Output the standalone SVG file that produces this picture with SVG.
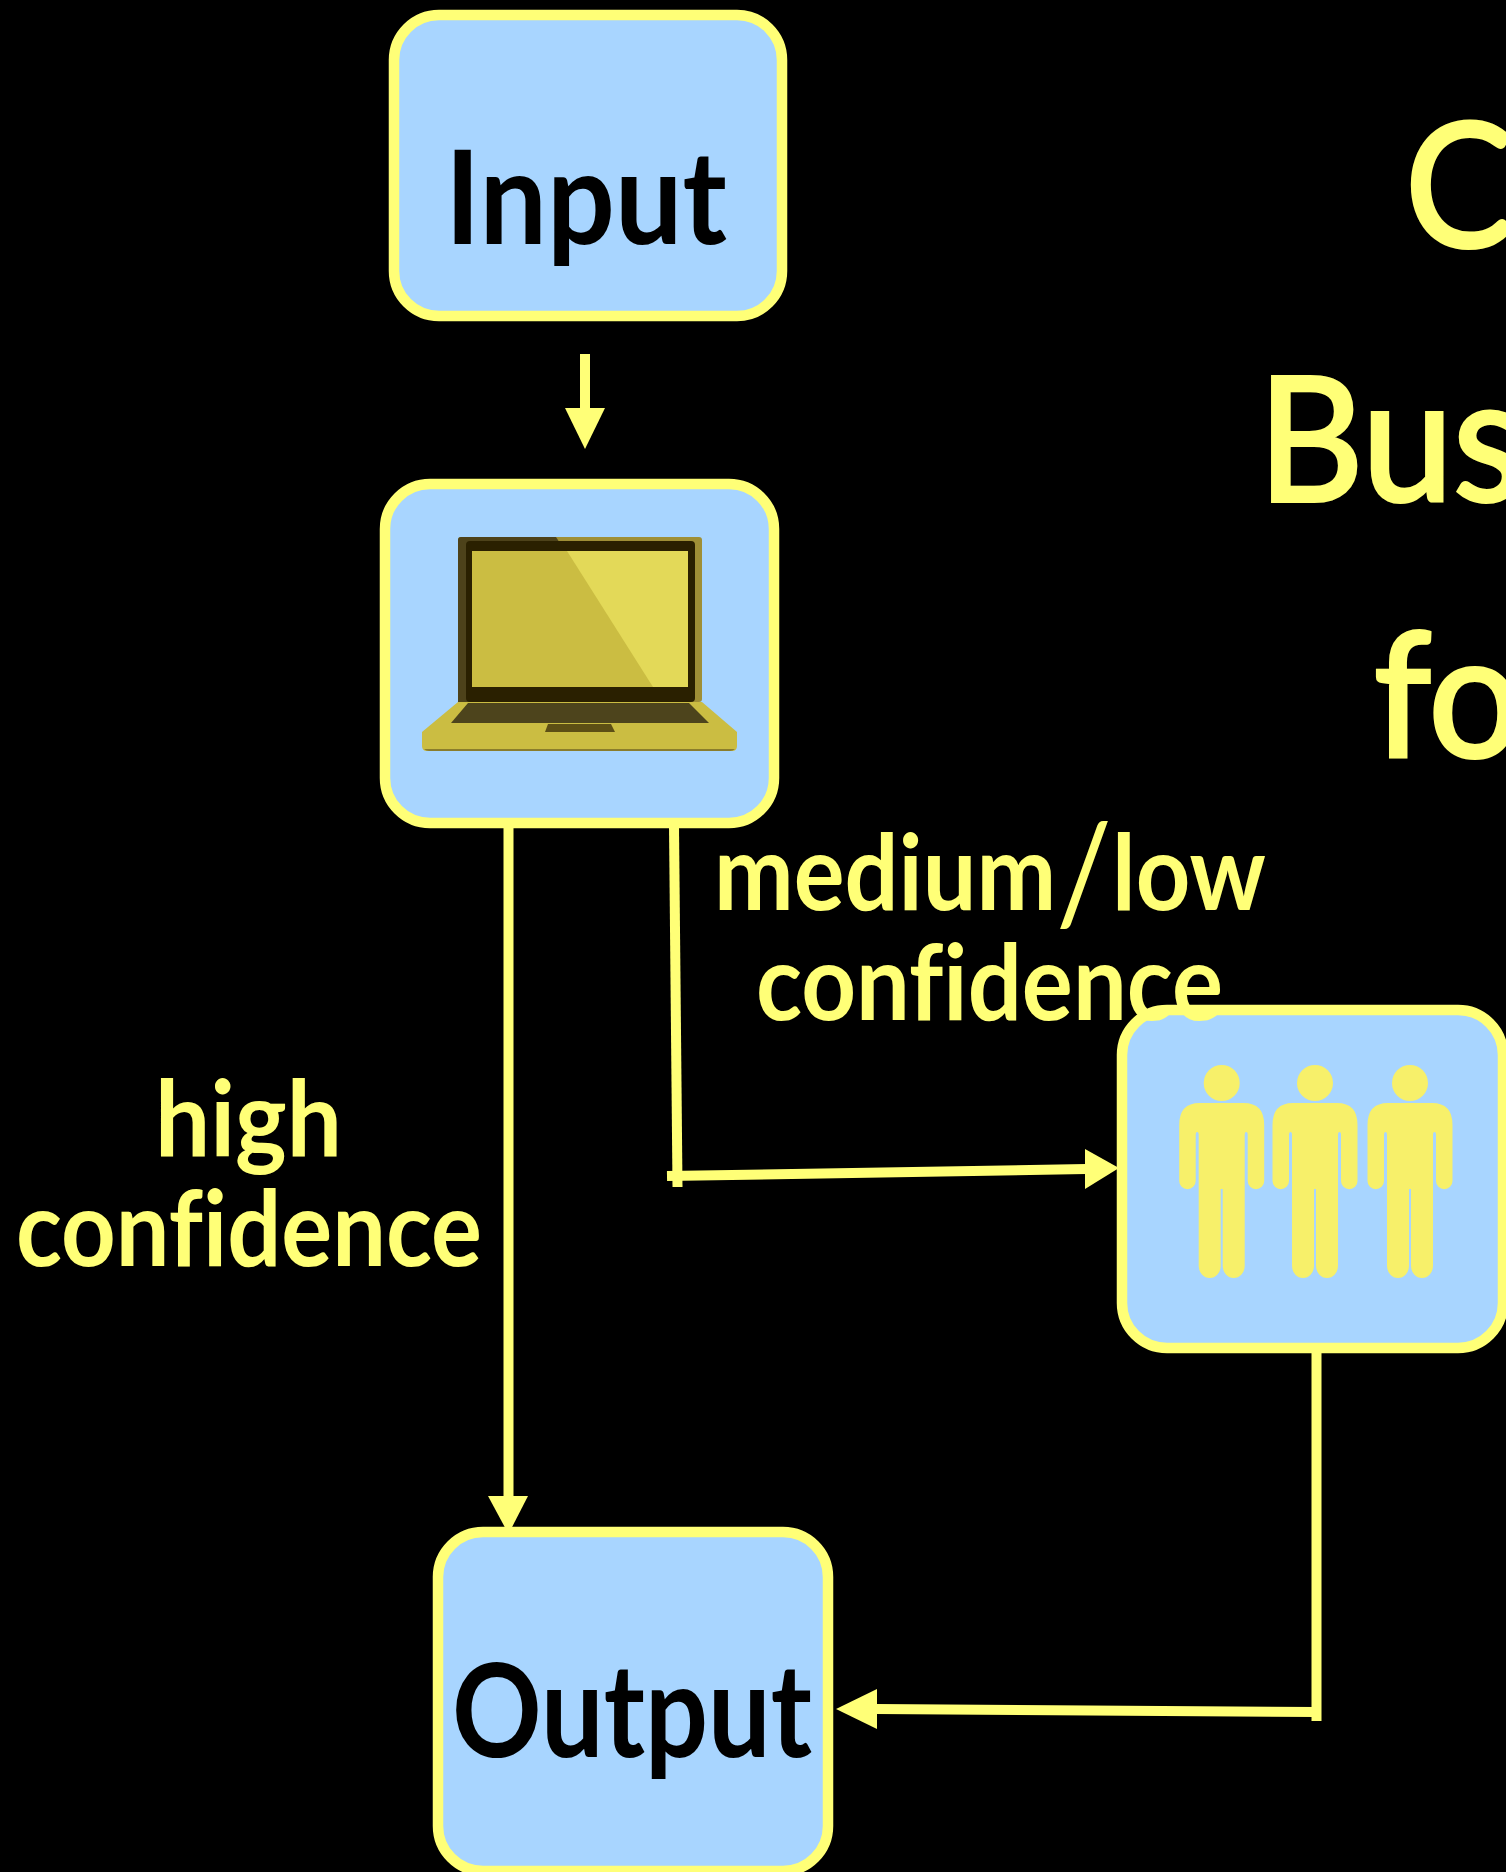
<svg xmlns="http://www.w3.org/2000/svg" xmlns:xlink="http://www.w3.org/1999/xlink" width="1506" height="1872" viewBox="0 0 1506 1872">
<style>
.box{fill:#a8d5ff;stroke:#ffff77;stroke-width:10.500}
.conn{fill:none;stroke:#ffff77;stroke-width:10}
.head{fill:#ffff77}
.t{font-family:"Lato","Noto Sans",sans-serif;font-variant-ligatures:none}
.label{fill:#ffff77;font-size:106px;font-weight:700}
.slash{font-size:138px;font-weight:400}
.name{fill:#000;font-size:130px;font-weight:700}
.title{fill:#ffff77;stroke:#ffff77;stroke-width:4px;font-size:172px;font-weight:400}
.person{fill:#f7f06a}
</style>
<defs>
<g id="person">
<circle cx="0" cy="1083" r="18"/>
<path d="M-22 1103H22Q42.500 1103 42.500 1125V1181A8.200 8.200 0 0 1 26 1181V1135Q26 1132 24.500 1132Q23 1132 23 1135V1266A11 12 0 0 1 1 1266V1189H-1V1266A11 12 0 0 1 -23 1266V1135Q-23 1132 -24.500 1132Q-26 1132 -26 1135V1181A8.200 8.200 0 0 1 -42.500 1181V1125Q-42.500 1103 -22 1103Z"/>
</g>
</defs>
<rect width="1506" height="1872" fill="#000"/>
<g id="title" class="t title">
<text transform="translate(1405 247) scale(.95 1)">C</text>
<text transform="translate(1258 501) scale(.95 1)">Bus</text>
<text transform="translate(1374 757) scale(.95 1)">fo</text>
</g>
<g id="connectors">
<path class="conn" d="M585 354V409"/>
<path class="head" d="M565 408H605L585 449Z"/>
<path class="conn" d="M508.500 826V1497"/>
<path class="head" d="M488 1496H528L508.500 1534Z"/>
<path class="conn" d="M674 826L677.500 1187"/>
<path class="conn" d="M667 1176L1086 1169"/>
<path class="head" d="M1085 1149V1189L1119 1168Z"/>
<path class="conn" d="M1316.500 1350V1721"/>
<path class="conn" d="M1316 1712L876 1709"/>
<path class="head" d="M877 1689V1729L836 1709Z"/>
</g>
<g id="node-input">
<rect class="box" x="394" y="15" width="388" height="301" rx="45"/>
<text class="t name" x="445" y="244" textLength="282" lengthAdjust="spacingAndGlyphs">Input</text>
</g>
<g id="node-computer">
<rect class="box" x="385" y="484" width="389" height="339" rx="45"/>
<g id="laptop">
<path fill="#cbbd42" d="M458 702H702L737 732V746Q737 751 732 751H427Q422 751 422 746V732Z"/>
<path fill="#8a7d2c" d="M424 749H735Q733 751 730 751H429Q426 751 424 749Z"/>
<rect x="458" y="537" width="244" height="165" rx="3" fill="#9f8f36"/>
<path fill="#4d421a" d="M461 537H556L662 702H458V540Q458 537 461 537Z"/>
<rect x="466" y="541" width="229" height="161" rx="4" fill="#2a2000"/>
<rect x="472" y="551" width="216" height="136" fill="#cbbd42"/>
<path fill="#e3d958" d="M567 551H688V687H653Z"/>
<path fill="#4d441c" d="M468 703H689L709 723H451Z"/>
<path fill="#5d4f15" d="M548 724H611L615 732H545Z"/>
</g>
</g>
<g id="node-people">
<rect class="box" x="1122" y="1010" width="381" height="338" rx="45"/>
<use xlink:href="#person" href="#person" class="person" x="1221.700"/>
<use xlink:href="#person" href="#person" class="person" x="1315"/>
<use xlink:href="#person" href="#person" class="person" x="1410"/>
</g>
<g id="node-output">
<rect class="box" x="438" y="1532" width="390" height="339" rx="45"/>
<text class="t name" x="452" y="1757" textLength="360" lengthAdjust="spacingAndGlyphs">Output</text>
</g>
<g id="labels" class="t label">
<text x="155" y="1156" textLength="187" lengthAdjust="spacingAndGlyphs">high</text>
<text x="16" y="1266" textLength="466" lengthAdjust="spacingAndGlyphs">confidence</text>
<text x="714" y="910" textLength="552" lengthAdjust="spacingAndGlyphs">medium<tspan class="slash" dy="12">/</tspan><tspan dy="-12">low</tspan></text>
<text x="756" y="1020" textLength="467" lengthAdjust="spacingAndGlyphs">confidence</text>
</g>
</svg>
